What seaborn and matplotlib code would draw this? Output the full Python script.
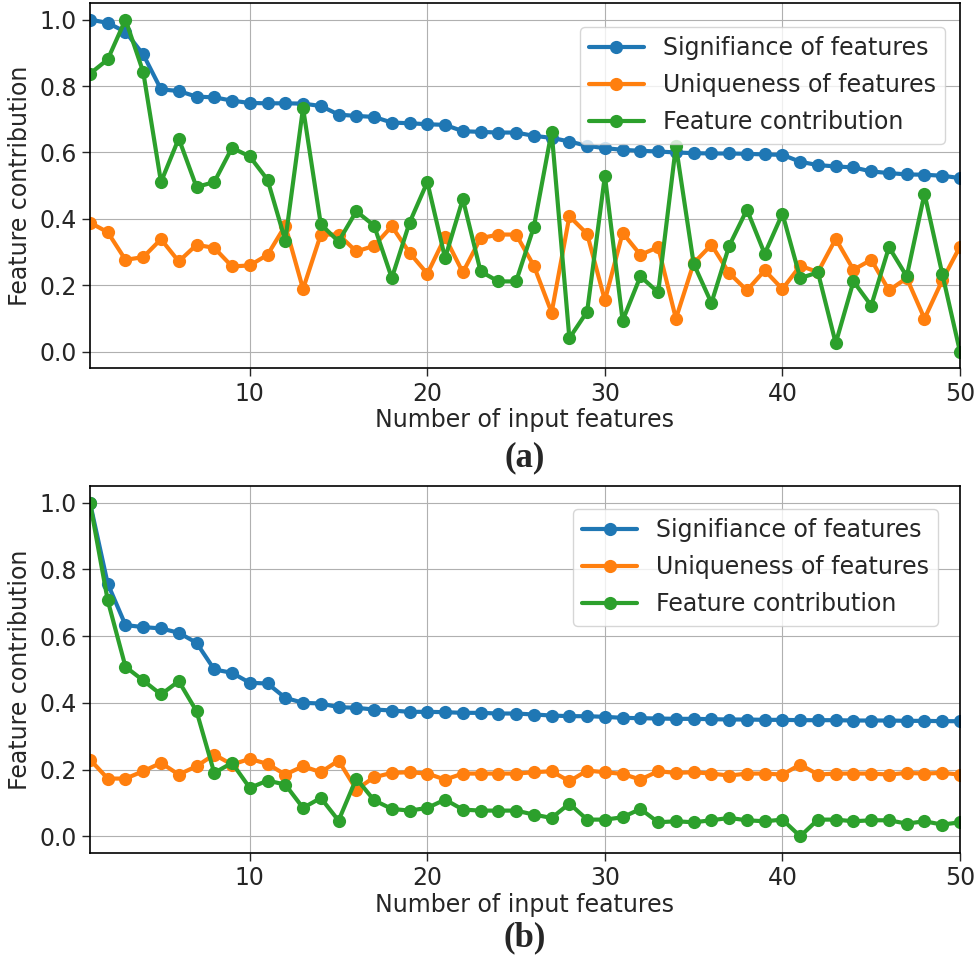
import matplotlib
matplotlib.use("Agg")
import matplotlib.pyplot as plt
import numpy as np
import pandas as pd
import seaborn as sns

n_features = list(range(1, 51))
series_names = ["Signifiance of features", "Uniqueness of features", "Feature contribution"]

# panel (a)
sig_a = [1.00, 0.99, 0.963, 0.895, 0.79, 0.785, 0.768, 0.766, 0.756, 0.749,
         0.748, 0.748, 0.747, 0.740, 0.714, 0.710, 0.707, 0.690, 0.688, 0.685,
         0.683, 0.664, 0.662, 0.660, 0.660, 0.650, 0.644, 0.633, 0.620, 0.613,
         0.608, 0.605, 0.603, 0.600, 0.598, 0.597, 0.597, 0.596, 0.594, 0.593,
         0.572, 0.562, 0.558, 0.555, 0.543, 0.538, 0.534, 0.533, 0.530, 0.523]
uniq_a = [0.389, 0.360, 0.277, 0.285, 0.339, 0.272, 0.322, 0.313, 0.257, 0.260,
          0.292, 0.380, 0.189, 0.353, 0.353, 0.302, 0.319, 0.378, 0.298, 0.235,
          0.345, 0.239, 0.342, 0.353, 0.353, 0.259, 0.118, 0.408, 0.355, 0.155,
          0.358, 0.292, 0.315, 0.100, 0.267, 0.322, 0.237, 0.185, 0.245, 0.189,
          0.259, 0.240, 0.340, 0.247, 0.277, 0.185, 0.222, 0.100, 0.215, 0.317]
contrib_a = [0.837, 0.880, 1.000, 0.842, 0.511, 0.642, 0.496, 0.511, 0.614, 0.588,
             0.518, 0.335, 0.734, 0.384, 0.332, 0.423, 0.380, 0.222, 0.389, 0.511,
             0.282, 0.460, 0.242, 0.212, 0.212, 0.376, 0.663, 0.041, 0.121, 0.530,
             0.094, 0.227, 0.179, 0.620, 0.265, 0.147, 0.319, 0.428, 0.295, 0.416,
             0.222, 0.239, 0.026, 0.212, 0.139, 0.315, 0.227, 0.476, 0.235, 0.000]

# panel (b)
sig_b = [1.000, 0.757, 0.633, 0.627, 0.623, 0.610, 0.580, 0.500, 0.490, 0.460,
         0.458, 0.415, 0.400, 0.398, 0.387, 0.385, 0.380, 0.377, 0.373, 0.373,
         0.372, 0.370, 0.370, 0.368, 0.368, 0.365, 0.362, 0.360, 0.360, 0.358,
         0.355, 0.354, 0.353, 0.352, 0.352, 0.351, 0.350, 0.350, 0.349, 0.349,
         0.348, 0.348, 0.348, 0.347, 0.347, 0.347, 0.346, 0.346, 0.345, 0.345]
uniq_b = [0.230, 0.173, 0.173, 0.195, 0.220, 0.185, 0.210, 0.245, 0.215, 0.232,
          0.217, 0.185, 0.210, 0.192, 0.227, 0.140, 0.177, 0.190, 0.192, 0.188,
          0.170, 0.188, 0.188, 0.188, 0.188, 0.192, 0.195, 0.165, 0.197, 0.192,
          0.187, 0.170, 0.195, 0.190, 0.192, 0.188, 0.182, 0.188, 0.188, 0.185,
          0.215, 0.185, 0.188, 0.188, 0.188, 0.185, 0.190, 0.188, 0.190, 0.185]
contrib_b = [1.000, 0.707, 0.508, 0.467, 0.425, 0.465, 0.375, 0.190, 0.220, 0.145,
             0.167, 0.155, 0.085, 0.115, 0.047, 0.173, 0.108, 0.082, 0.077, 0.085,
             0.110, 0.080, 0.077, 0.077, 0.077, 0.065, 0.055, 0.098, 0.050, 0.050,
             0.057, 0.082, 0.042, 0.045, 0.042, 0.048, 0.055, 0.048, 0.045, 0.050,
             0.000, 0.050, 0.050, 0.045, 0.048, 0.048, 0.038, 0.045, 0.035, 0.042]


def long_frame(sig, uniq, contrib):
    frames = []
    for name, vals in zip(series_names, [sig, uniq, contrib]):
        frames.append(pd.DataFrame({"n": n_features, "value": vals, "series": name}))
    return pd.concat(frames, ignore_index=True)


sns.set_style("ticks", {"axes.grid": True, "grid.color": "#b0b0b0", "axes.edgecolor": "black"})
plt.rcParams["font.family"] = ["DejaVu Sans"]
plt.rcParams["grid.linewidth"] = 0.8

fig = plt.figure(figsize=(9.79, 9.57), dpi=100)
ax_a = fig.add_axes([0.0919, 0.615, 0.8887, 0.3819])
ax_b = fig.add_axes([0.0919, 0.1087, 0.8887, 0.3835])
palette = sns.color_palette("tab10", 3)

panels = [
    (ax_a, long_frame(sig_a, uniq_a, contrib_a), "(a)", (0.9963, 0.9666), -0.245),
    (ax_b, long_frame(sig_b, uniq_b, contrib_b), "(b)", (0.9883, 0.9695), -0.232),
]
for ax, df, tag, anchor, tag_y in panels:
    sns.lineplot(data=df, x="n", y="value", hue="series", hue_order=series_names,
                 palette=palette, marker="o", markersize=9.5, markeredgewidth=0,
                 linewidth=3, ax=ax)
    ax.set_xlim(1, 50)
    ax.set_ylim(-0.05, 1.05)
    ax.set_xticks([10, 20, 30, 40, 50])
    ax.set_yticks([0.0, 0.2, 0.4, 0.6, 0.8, 1.0])
    ax.tick_params(labelsize=17, length=6, width=1)
    ax.set_xlabel("Number of input features", fontsize=17, labelpad=2)
    ax.set_ylabel("Feature contribution", fontsize=17, labelpad=5)
    ax.legend(loc="upper right", bbox_to_anchor=anchor, fontsize=17, title=None,
              frameon=True, framealpha=0.8, edgecolor="#cccccc",
              labelspacing=0.55, handlelength=2.3)
    for sp in ax.spines.values():
        sp.set_linewidth(1.2)
    ax.text(0.5, tag_y, tag, transform=ax.transAxes, ha="center", va="center",
            fontsize=25, fontweight="bold", family="Liberation Serif")

fig.savefig("out.png", dpi=100)
